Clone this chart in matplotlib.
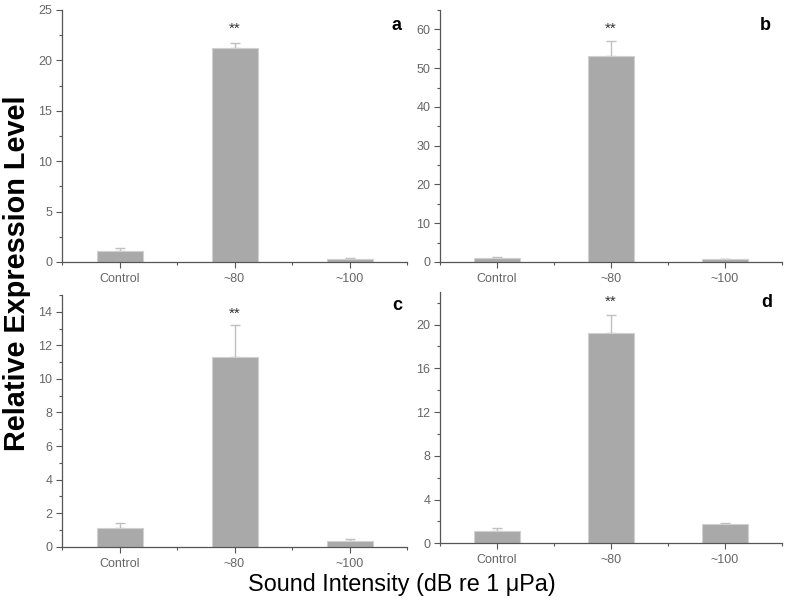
import matplotlib
matplotlib.use("Agg")
import matplotlib.pyplot as plt
from matplotlib.ticker import MultipleLocator, FixedLocator

plt.rcParams['font.family'] = ['Liberation Sans', 'DejaVu Sans']

categories = ["Control", "~80", "~100"]
vals_a = [1.1, 21.2, 0.25]
err_a = [0.3, 0.55, 0.1]
vals_b = [1.0, 53.1, 0.8]
err_b = [0.3, 3.9, 0.1]
vals_c = [1.1, 11.33, 0.36]
err_c = [0.3, 1.87, 0.09]
vals_d = [1.09, 19.2, 1.72]
err_d = [0.27, 1.7, 0.18]
panel_labels = ["a", "b", "c", "d"]
ylims = [25, 65, 15, 23]
major_steps = [5, 10, 2, 4]
minor_steps = [2.5, 5, 1, 2]

W, H = 787, 603
fig = plt.figure(figsize=(W / 100, H / 100), dpi=100)

def box(l, r, b, t):
    return [l / W, 1 - b / H, (r - l) / W, (b - t) / H]

rects = [box(62, 407, 262, 10), box(440, 782, 262, 10),
         box(62, 407, 546.7, 295), box(440, 782, 543.3, 291.7)]
label_pos = [(397, 25), (765, 25), (397, 305), (767, 302)]
star_y = [29, 29, 314, 302]

spine_col = "#555555"
bar_col = "#a9a9a9"
err_col = "#c0c0c0"
tick_col = "#666666"

data = [(vals_a, err_a), (vals_b, err_b), (vals_c, err_c), (vals_d, err_d)]
x = [1, 2, 3]
for i, ((v, e), rect) in enumerate(zip(data, rects)):
    ax = fig.add_axes(rect)
    ax.bar(x, v, width=0.4, color=bar_col, edgecolor="#d0d0d0", linewidth=0.8, zorder=2)
    ax.errorbar(x, v, yerr=[[0, 0, 0], e], fmt="none", ecolor=err_col,
                elinewidth=1.0, capsize=3.5, capthick=1.0, zorder=1)
    ax.set_xlim(0.5, 3.5)
    ax.set_ylim(0, ylims[i])
    ax.spines['top'].set_visible(False)
    ax.spines['right'].set_visible(False)
    for s in ['left', 'bottom']:
        ax.spines[s].set_color(spine_col)
        ax.spines[s].set_linewidth(0.9)
    ax.set_xticks(x)
    ax.set_xticklabels(categories)
    ax.xaxis.set_minor_locator(FixedLocator([0.5, 1.5, 2.5, 3.5]))
    ax.yaxis.set_major_locator(MultipleLocator(major_steps[i]))
    ax.yaxis.set_minor_locator(MultipleLocator(minor_steps[i]))
    ax.tick_params(axis='both', which='major', direction='out', length=4, width=0.8,
                   color=spine_col, labelsize=9, labelcolor=tick_col, pad=3)
    ax.tick_params(axis='both', which='minor', direction='out', length=2.5, width=0.8,
                   color=spine_col)
    ax.tick_params(axis='x', which='major', pad=4)
    fig.text(label_pos[i][0] / W, 1 - label_pos[i][1] / H, panel_labels[i],
             fontsize=13, fontweight='bold', ha='center', va='center')
    # significance stars above the middle bar
    x_disp = ax.transData.transform((2, 0))[0]
    fig.text(x_disp / W, 1 - star_y[i] / H, "**", fontsize=11, color="#333333",
             ha='center', va='center')

fig.text(17 / W, 1 - 273 / H, "Relative Expression Level", rotation=90, fontsize=20.8,
         fontweight='bold', ha='center', va='center')
fig.text(402 / W, 1 - 591 / H, "Sound Intensity (dB re 1 \u03bcPa)", fontsize=16.8,
         ha='center', va='baseline')

fig.savefig("out.png", dpi=100)
